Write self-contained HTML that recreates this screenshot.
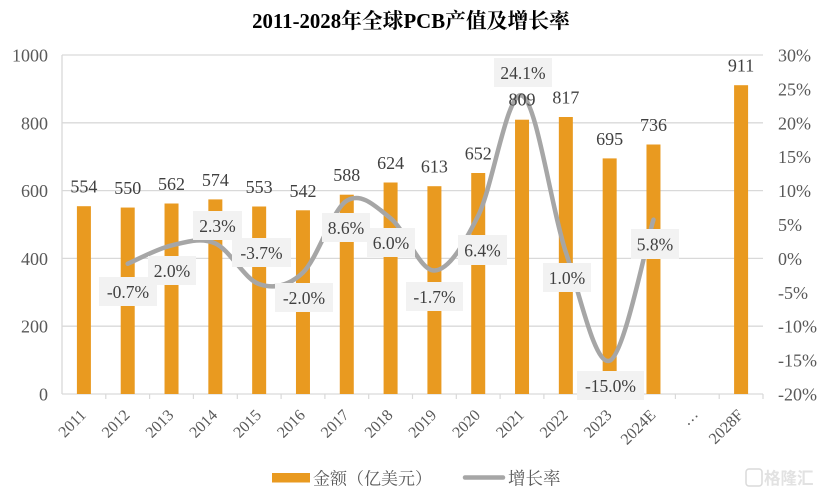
<!DOCTYPE html>
<html>
<head>
<meta charset="utf-8">
<style>
  html,body{margin:0;padding:0;background:#fff;}
  svg{display:block;}
  .ser{font-family:"Liberation Serif","Noto Serif CJK SC",serif;}
</style>
</head>
<body>
<svg width="822" height="494" viewBox="0 0 822 494" xmlns="http://www.w3.org/2000/svg" class="ser">
  <rect x="0" y="0" width="822" height="494" fill="#ffffff"/>

  <!-- Title -->
  <text x="411" y="28" text-anchor="middle" font-size="20.8" font-weight="bold" fill="#000" font-family="Liberation Serif, Noto Serif CJK SC, serif">2011-2028年全球PCB产值及增长率</text>

  <!-- Gridlines -->
  <g stroke="#D9D9D9" stroke-width="1.3">
    <line x1="62" y1="55" x2="763" y2="55"/>
    <line x1="62" y1="122.8" x2="763" y2="122.8"/>
    <line x1="62" y1="190.6" x2="763" y2="190.6"/>
    <line x1="62" y1="258.4" x2="763" y2="258.4"/>
    <line x1="62" y1="326.2" x2="763" y2="326.2"/>
    <line x1="62" y1="394" x2="763" y2="394"/>
    <line x1="62" y1="55" x2="62" y2="394"/>
  </g>
  <!-- x ticks -->
  <g stroke="#D9D9D9" stroke-width="1.2">
    <line x1="105.8" y1="394" x2="105.8" y2="399"/>
    <line x1="149.6" y1="394" x2="149.6" y2="399"/>
    <line x1="193.4" y1="394" x2="193.4" y2="399"/>
    <line x1="237.3" y1="394" x2="237.3" y2="399"/>
    <line x1="281.1" y1="394" x2="281.1" y2="399"/>
    <line x1="324.9" y1="394" x2="324.9" y2="399"/>
    <line x1="368.7" y1="394" x2="368.7" y2="399"/>
    <line x1="412.5" y1="394" x2="412.5" y2="399"/>
    <line x1="456.3" y1="394" x2="456.3" y2="399"/>
    <line x1="500.1" y1="394" x2="500.1" y2="399"/>
    <line x1="543.9" y1="394" x2="543.9" y2="399"/>
    <line x1="587.8" y1="394" x2="587.8" y2="399"/>
    <line x1="631.6" y1="394" x2="631.6" y2="399"/>
    <line x1="675.4" y1="394" x2="675.4" y2="399"/>
    <line x1="719.2" y1="394" x2="719.2" y2="399"/>
    <line x1="763" y1="394" x2="763" y2="399"/>
  </g>

  <!-- Left axis labels -->
  <g font-size="18" fill="#595959" text-anchor="end" font-family="Liberation Serif, serif">
    <text x="48" y="61.5">1000</text>
    <text x="48" y="129.3">800</text>
    <text x="48" y="197.1">600</text>
    <text x="48" y="264.9">400</text>
    <text x="48" y="332.7">200</text>
    <text x="48" y="400.5">0</text>
  </g>
  <!-- Right axis labels -->
  <g font-size="18" fill="#595959" text-anchor="start" font-family="Liberation Serif, serif">
    <text x="778" y="61.5">30%</text>
    <text x="778" y="95.4">25%</text>
    <text x="778" y="129.3">20%</text>
    <text x="778" y="163.2">15%</text>
    <text x="778" y="197.1">10%</text>
    <text x="778" y="231">5%</text>
    <text x="778" y="264.9">0%</text>
    <text x="778" y="298.8">-5%</text>
    <text x="778" y="332.7">-10%</text>
    <text x="778" y="366.6">-15%</text>
    <text x="778" y="400.5">-20%</text>
  </g>

  <!-- Bars -->
  <g fill="#E99A20">
    <rect x="76.91" y="206.2" width="14" height="187.8"/>
    <rect x="120.72" y="207.55" width="14" height="186.45"/>
    <rect x="164.53" y="203.5" width="14" height="190.5"/>
    <rect x="208.34" y="199.4" width="14" height="194.6"/>
    <rect x="252.16" y="206.5" width="14" height="187.5"/>
    <rect x="295.97" y="210.3" width="14" height="183.7"/>
    <rect x="339.78" y="194.7" width="14" height="199.3"/>
    <rect x="383.59" y="182.5" width="14" height="211.5"/>
    <rect x="427.41" y="186.2" width="14" height="207.8"/>
    <rect x="471.22" y="173.0" width="14" height="221.0"/>
    <rect x="515.03" y="119.7" width="14" height="274.3"/>
    <rect x="558.84" y="117.0" width="14" height="277.0"/>
    <rect x="602.66" y="158.4" width="14" height="235.6"/>
    <rect x="646.47" y="144.5" width="14" height="249.5"/>
    <rect x="734.09" y="85.2" width="14" height="308.8"/>
  </g>

  <!-- Growth line -->
  <path d="M127.72,263.75 C135.02,260.70 156.93,248.83 171.53,245.44
           C186.13,242.05 200.74,236.97 215.34,243.41
           C229.94,249.85 244.56,279.23 259.16,284.09
           C273.76,288.95 288.37,286.46 302.97,272.56
           C317.57,258.66 332.18,209.73 346.78,200.69
           C361.38,191.65 375.99,206.68 390.59,218.32
           C405.19,229.96 419.81,270.98 434.41,270.53
           C449.01,270.08 463.62,244.77 478.22,215.61
           C492.82,186.45 507.43,89.50 522.03,95.60
           C536.63,101.70 551.24,208.04 565.84,252.22
           C580.44,296.40 595.06,366.12 609.66,360.70
           C624.26,355.28 646.17,243.18 653.47,219.68"
        fill="none" stroke="#A6A6A6" stroke-width="4.5" stroke-linecap="round" stroke-linejoin="round"/>

  <!-- Bar value labels -->
  <g font-size="18" fill="#404040" text-anchor="middle" font-family="Liberation Serif, serif">
    <text x="83.91" y="192.7">554</text>
    <text x="127.72" y="194.0">550</text>
    <text x="171.53" y="190.0">562</text>
    <text x="215.34" y="185.9">574</text>
    <text x="259.16" y="193.0">553</text>
    <text x="302.97" y="196.8">542</text>
    <text x="346.78" y="181.2">588</text>
    <text x="390.59" y="169.0">624</text>
    <text x="434.41" y="172.7">613</text>
    <text x="478.22" y="159.5">652</text>
    <text x="522.03" y="105.5">809</text>
    <text x="565.84" y="103.5">817</text>
    <text x="609.66" y="144.9">695</text>
    <text x="653.47" y="131.0">736</text>
    <text x="741.09" y="71.7">911</text>
  </g>

  <!-- Growth label boxes -->
  <g fill="#F2F2F2">
    <rect x="99" y="277" width="58" height="29"/>
    <rect x="148" y="256" width="48" height="29"/>
    <rect x="193" y="211" width="49" height="29"/>
    <rect x="232" y="238" width="59" height="29"/>
    <rect x="275" y="283" width="58" height="29"/>
    <rect x="322" y="213" width="48" height="29"/>
    <rect x="367" y="228" width="48" height="29"/>
    <rect x="406" y="282" width="57" height="29"/>
    <rect x="458" y="235" width="49" height="30"/>
    <rect x="494" y="58" width="58" height="29"/>
    <rect x="543" y="263" width="48" height="29"/>
    <rect x="577" y="371" width="67" height="29"/>
    <rect x="631" y="229" width="48" height="30"/>
  </g>
  <g font-size="17.5" fill="#404040" text-anchor="middle" font-family="Liberation Serif, serif">
    <text x="128" y="298">-0.7%</text>
    <text x="172" y="277">2.0%</text>
    <text x="217.5" y="232">2.3%</text>
    <text x="261.5" y="259">-3.7%</text>
    <text x="304" y="304">-2.0%</text>
    <text x="346" y="234">8.6%</text>
    <text x="391" y="249">6.0%</text>
    <text x="434.5" y="303">-1.7%</text>
    <text x="482.5" y="256.5">6.4%</text>
    <text x="523" y="79">24.1%</text>
    <text x="567" y="284">1.0%</text>
    <text x="610.5" y="392">-15.0%</text>
    <text x="655" y="250.5">5.8%</text>
  </g>

  <!-- X axis labels -->
  <g font-size="16" fill="#595959" text-anchor="end" font-family="Liberation Serif, serif">
    <text transform="translate(86.9,416) rotate(-45)">2011</text>
    <text transform="translate(130.7,416) rotate(-45)">2012</text>
    <text transform="translate(174.5,416) rotate(-45)">2013</text>
    <text transform="translate(218.3,416) rotate(-45)">2014</text>
    <text transform="translate(262.2,416) rotate(-45)">2015</text>
    <text transform="translate(306.0,416) rotate(-45)">2016</text>
    <text transform="translate(349.8,416) rotate(-45)">2017</text>
    <text transform="translate(393.6,416) rotate(-45)">2018</text>
    <text transform="translate(437.4,416) rotate(-45)">2019</text>
    <text transform="translate(481.2,416) rotate(-45)">2020</text>
    <text transform="translate(525.0,416) rotate(-45)">2021</text>
    <text transform="translate(568.8,416) rotate(-45)">2022</text>
    <text transform="translate(612.7,416) rotate(-45)">2023</text>
    <text transform="translate(656.5,416) rotate(-45)">2024E</text>
    <text transform="translate(699,415) rotate(-45)">…</text>
    <text transform="translate(744.1,416) rotate(-45)">2028F</text>
  </g>

  <!-- Legend -->
  <rect x="272" y="473" width="38" height="9.5" fill="#E99A20"/>
  <text x="313" y="484.5" font-size="17" fill="#595959" font-family="Liberation Serif, Noto Serif CJK SC, serif">金额（亿美元）</text>
  <line x1="465" y1="477.5" x2="503" y2="477.5" stroke="#A6A6A6" stroke-width="4.5" stroke-linecap="round"/>
  <text x="508" y="484.5" font-size="17.5" fill="#595959" font-family="Liberation Serif, Noto Serif CJK SC, serif">增长率</text>

  <!-- Watermark -->
  <rect x="746" y="469" width="16" height="17" rx="3" fill="none" stroke="#DADADA" stroke-width="1.5"/>
  <text x="764" y="484" font-size="16.5" fill="#E2E2E2" font-weight="bold" font-family="Liberation Sans, Noto Sans CJK SC, sans-serif">格隆汇</text>
</svg>
</body>
</html>
